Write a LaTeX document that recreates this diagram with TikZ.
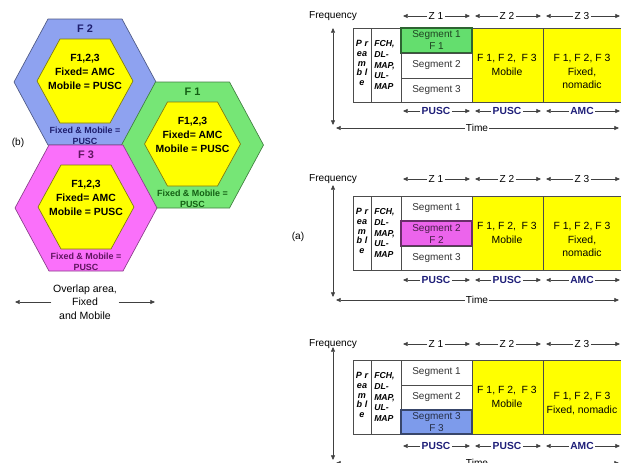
\documentclass[tikz,border=0pt]{standalone}
\usepackage{fontspec}
\setmainfont{Liberation Sans}
\usetikzlibrary{arrows.meta}
\definecolor{hexblue}{RGB}{142,162,240}
\definecolor{hexgreen}{RGB}{118,230,118}
\definecolor{hexmag}{RGB}{250,112,250}
\definecolor{hexyellow}{RGB}{255,255,0}
\definecolor{seggreen}{RGB}{100,222,110}
\definecolor{segmag}{RGB}{236,100,236}
\definecolor{segblue}{RGB}{125,155,235}
\definecolor{navytext}{RGB}{30,30,120}
\definecolor{bluetext}{RGB}{30,30,110}
\definecolor{greentext}{RGB}{20,95,20}
\definecolor{purpletext}{RGB}{95,20,95}
\tikzset{
  lbl/.style={font=\fontsize{7.6}{10}\selectfont, inner sep=1pt},
  seglbl/.style={font=\fontsize{7.5}{9}\selectfont, inner sep=1pt, align=center},
  yeltxt/.style={font=\fontsize{7.8}{10}\selectfont, inner sep=1pt, align=center},
  bluelbl/.style={font=\bfseries\fontsize{7.7}{10}\selectfont, text=navytext, inner sep=1pt},
  hexin/.style={font=\bfseries\fontsize{7.8}{10.2}\selectfont, align=center, inner sep=1pt},
  hexlab/.style={font=\bfseries\fontsize{8.2}{10}\selectfont, inner sep=1pt},
  hexbot/.style={font=\bfseries\fontsize{6.7}{7.9}\selectfont, align=center, inner sep=1pt},
  pretxt/.style={font=\bfseries\itshape\fontsize{6.8}{7.3}\selectfont, align=center, inner sep=0pt},
  fchtxt/.style={font=\bfseries\itshape\fontsize{6.5}{7.9}\selectfont, align=left, inner sep=0pt},
  tip/.style={draw=black!75, line width=0.5pt, -{Triangle[length=3.5pt,width=3pt]}},
  dtip/.style={draw=black!75, line width=0.5pt, {Triangle[length=3.5pt,width=3pt]}-{Triangle[length=3.5pt,width=3pt]}},
  cellline/.style={draw=black!70, line width=0.5pt},
}
\newcommand\hexshape[6]{%
  \path[#6] (#1-#3,#2) -- (#1-#4,#2-#5) -- (#1+#4,#2-#5) -- (#1+#3,#2)
    -- (#1+#4,#2+#5) -- (#1-#4,#2+#5) -- cycle;}
\newcommand\hexcell[6]{%
  \hexshape{#2}{#3}{71}{37}{63}{fill=#4, draw=#4!55!black, line width=0.5pt}
  \hexshape{#2}{#3-1}{48}{25}{42}{fill=hexyellow, draw=olive!85!black, line width=0.5pt}
  \node[hexlab, text=#5] (#1lab) at (#2,#3-53) {#6};
  \node[hexin] (#1in) at (#2,#3-10) {F1,2,3\\Fixed= AMC\\Mobile = PUSC};
  \node[hexbot, text=#5] (#1bot) at (#2,#3+54) {Fixed \& Mobile =\\PUSC};
}
% #1 prefix, #2 box top, #3 freq row y, #4 vertical axis top, #5 pusc row y,
% #6 time axis y, #7 Z3 text, #8 highlighted segment, #9 its colour
\newcommand\tpanel[9]{%
  \fill[white] (353,#2) rectangle (640,#2+74);
  \fill[hexyellow] (472,#2) rectangle (640,#2+74);
  \draw[cellline] (353,#2) rectangle (640,#2+74);
  \draw[cellline] (371.5,#2) -- (371.5,#2+74);
  \draw[cellline] (401,#2) -- (401,#2+74);
  \draw[cellline] (543,#2) -- (543,#2+74);
  \foreach \s/\ya/\yb in {1/0/25,2/25/50,3/50/74}{%
    \ifnum\s=#8\relax
      \draw[fill=#9, draw=#9!45!black, line width=0.8pt] (401,#2+\ya) rectangle (472,#2+\yb);
      \node[seglbl, text=#9!30!black] (#1seg\s) at (436.5,{#2+(\ya+\yb)/2}) {Segment \s\\F \s};
    \else
      \draw[cellline] (401,#2+\ya) rectangle (472,#2+\yb);
      \node[seglbl, text=black!80] (#1seg\s) at (436.5,{#2+(\ya+\yb)/2}) {Segment \s};
    \fi
  }
  \node[pretxt] (#1pre) at (362,#2+35) {P r\\ea\\m\\b l\\e};
  \node[fchtxt, anchor=west] (#1fch) at (374,#2+37) {FCH,\\DL-\\MAP,\\UL-\\MAP};
  \node[yeltxt] (#1ztwo) at (507,#2+37) {F 1, F 2,~ F 3\\Mobile};
  \node[yeltxt] (#1zthree) at (582,#2+43.5) {#7};
  % zone row
  \node[lbl] (#1freq) at (333,#3) {Frequency};
  \node[lbl] (#1za) at (436,#3) {Z 1};
  \node[lbl] (#1zb) at (507,#3) {Z 2};
  \node[lbl] (#1zc) at (582,#3) {Z 3};
  \draw[tip] (#1za) -- (403,#3); \draw[tip] (#1za) -- (470,#3);
  \draw[tip] (#1zb) -- (475,#3); \draw[tip] (#1zb) -- (541,#3);
  \draw[tip] (#1zc) -- (546,#3); \draw[tip] (#1zc) -- (620,#3);
  % permutation row
  \node[bluelbl] (#1pa) at (436,#5) {PUSC};
  \node[bluelbl] (#1pb) at (507,#5) {PUSC};
  \node[bluelbl] (#1pc) at (582,#5) {AMC};
  \draw[tip] (#1pa) -- (403,#5); \draw[tip] (#1pa) -- (470,#5);
  \draw[tip] (#1pb) -- (475,#5); \draw[tip] (#1pb) -- (541,#5);
  \draw[tip] (#1pc) -- (546,#5); \draw[tip] (#1pc) -- (620,#5);
  % axes
  \draw[dtip] (333,#4) -- (333,#6-3);
  \draw[dtip] (336,#6) -- (619,#6);
  \node[lbl, fill=white] (#1time) at (477,#6) {Time};
}
\begin{document}
\begin{tikzpicture}[x=0.75pt,y=-0.75pt]
\useasboundingbox (0,0) rectangle (621,462);
% ---------- (b) hexagonal cells ----------
\hexcell{ftwo}{85}{82}{hexblue}{bluetext}{F 2}
\hexcell{fone}{192.5}{145}{hexgreen}{greentext}{F 1}
\hexcell{fthree}{86}{208}{hexmag}{purpletext}{F 3}
\node[lbl] (blab) at (18,143) {(b)};
\node[font=\fontsize{7.9}{10.1}\selectfont, align=center, inner sep=1pt] (ov) at (85,302) {Overlap area,\\Fixed\\and Mobile};
\coordinate (ovl) at (15,302);
\coordinate (ovr) at (155,302);
\draw[tip] (ov.west) -- (ovl);
\draw[tip] (ov.east) -- (ovr);
% ---------- (a) frame structures ----------
\node[lbl] (alab) at (298,237) {(a)};
\tpanel{p}{28}{16}{28}{111}{128}{F 1, F 2, F 3\\Fixed,\\nomadic}{1}{seggreen}
\tpanel{q}{196}{179}{185}{280}{300}{F 1, F 2, F 3\\Fixed,\\nomadic}{2}{segmag}
\tpanel{r}{360}{344}{347}{446}{463}{F 1, F 2, F 3\\Fixed, nomadic}{3}{segblue}
\end{tikzpicture}
\end{document}
